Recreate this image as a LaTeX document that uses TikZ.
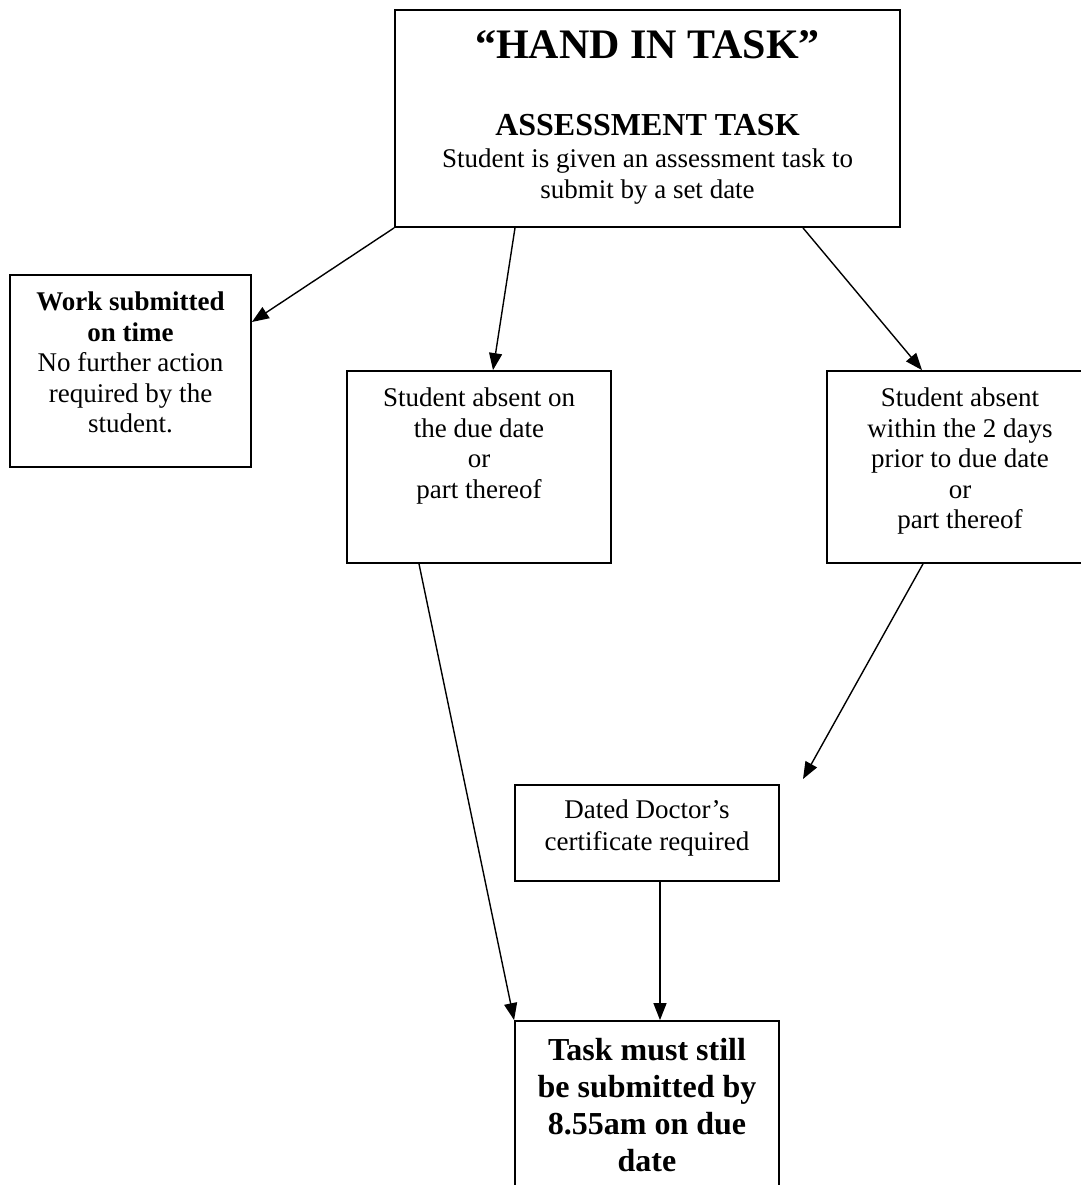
\documentclass[tikz,border=0pt]{standalone}
\usepackage{fontspec}
\setmainfont{Liberation Serif}
\usetikzlibrary{arrows.meta,positioning}

\begin{document}
\begin{tikzpicture}[x=0.5pt,y=-0.5pt]
\tikzset{block/.style = {draw, line width=0.9pt, inner sep=0pt, minimum width=132pt}}
\tikzset{txt/.style = {inner sep=0pt, align=center, font=\fontsize{13.5}{15.25}\selectfont}}
\tikzset{bigtxt/.style = {inner sep=0pt, align=center, font=\fontsize{16}{18.5}\selectfont\bfseries}}
\tikzset{link/.style = {-{Triangle[length=8.5pt,width=6.5pt]}, line width=0.7pt}}
\useasboundingbox (0,0) rectangle (1081,1185);
\clip (0,0) rectangle (1081,1185);
% boxes
\node[block, minimum width=252.5pt, minimum height=108.5pt] (task) at (647.5,118.5) {};
\node[block, minimum width=120.5pt, minimum height=96pt] (ontime) at (130.5,371) {};
\node[block, minimum height=96pt] (absent) at (479,467) {};
\node[block, minimum width=133pt, minimum height=96pt] (prior) at (960,467) {};
\node[block, minimum height=48pt] (doctor) at (647,833) {};
\node[block, minimum height=110pt] (still) at (647,1131) {};
% texts
\node[inner sep=0pt, font=\fontsize{21}{25}\selectfont\bfseries, below=10.7pt of task.north] (tasktitle) {“HAND IN TASK”};
\node[bigtxt, below=52.6pt of task.north] (tasksub) {ASSESSMENT TASK};
\node[txt, below=69.8pt of task.north] (taskbody) {Student is given an assessment task to\\submit by a set date};
\node[txt, below=8.8pt of ontime.north] (ontimetxt) {\textbf{Work submitted}\\\textbf{on time}\\No further action\\required by the\\student.};
\node[txt, below=8.8pt of absent.north] (absenttxt) {Student absent on\\the due date\\or\\part thereof};
\node[txt, below=8.8pt of prior.north] (priortxt) {Student absent\\within the 2 days\\prior to due date\\or\\part thereof};
\node[txt, font=\fontsize{13.5}{15.75}\selectfont, below=7.8pt of doctor.north] (doctortxt) {Dated Doctor’s\\certificate required};
\node[bigtxt, below=9pt of still.north] (stilltxt) {Task must still\\be submitted by\\8.55am on due\\date};
% arrows
\coordinate (loose) at (803,779);
\draw[link] (task.south west) -- ([yshift=24.5pt]ontime.east);
\draw[link] ([xshift=-66.25pt]task.south) -- ([xshift=7pt]absent.north);
\draw[link] ([xshift=77.75pt]task.south) -- ([xshift=-19pt]prior.north);
\draw[link] ([xshift=-30pt]absent.south) -- (still.north west);
\draw[link] ([xshift=-18.5pt]prior.south) -- (loose);
\draw[link] ([xshift=6.5pt]doctor.south) -- ([xshift=6.5pt]still.north);
\end{tikzpicture}
\end{document}
